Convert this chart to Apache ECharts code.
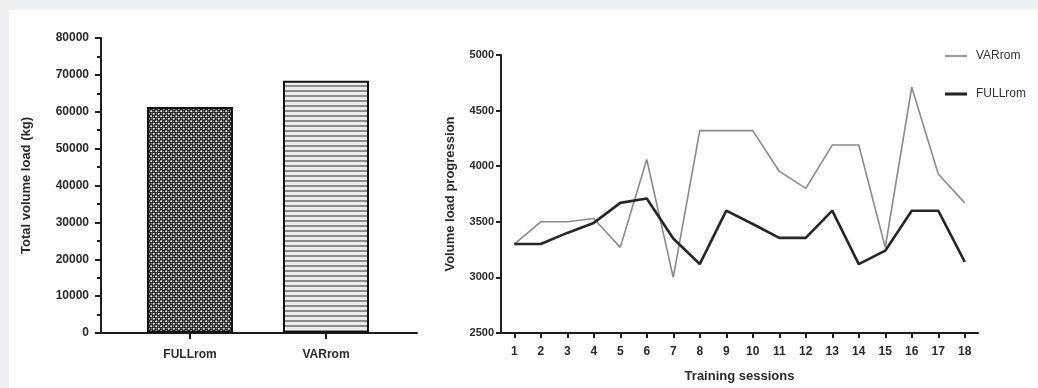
<!DOCTYPE html>
<html>
<head>
<meta charset="utf-8">
<script src="https://cdn.jsdelivr.net/npm/echarts@6/dist/echarts.min.js"></script>
<style>
  html, body { margin: 0; padding: 0; background: #eff0f2; }
  #main { width: 1038px; height: 388px; }
</style>
</head>
<body>
<div id="main"></div>
<script>
// left panel: total volume load per group
const groups = ['FULLrom', 'VARrom']
const totalLoad = [61300, 68400]

// right panel: load progression per session
const sessions = ['1', '2', '3', '4', '5', '6', '7', '8', '9', '10', '11', '12', '13', '14', '15', '16', '17', '18']
const varRom = [3300, 3500, 3500, 3530, 3270, 4060, 3000, 4320, 4320, 4320, 3955, 3800, 4190, 4190, 3270, 4710, 3930, 3670]
const fullRom = [3300, 3300, 3400, 3490, 3670, 3710, 3350, 3120, 3600, 3480, 3355, 3355, 3600, 3120, 3240, 3600, 3600, 3140]

const FONT = '"Liberation Sans", Arial, sans-serif'

// fill patterns for the bars
function checkerPattern() {
  const c = document.createElement('canvas')
  c.width = 5; c.height = 5
  const ctx = c.getContext('2d')
  ctx.fillStyle = '#1a1a1a'
  ctx.fillRect(0, 0, 5, 5)
  ctx.fillStyle = '#f4f4f4'
  ctx.beginPath(); ctx.arc(1.25, 1.25, 1.1, 0, Math.PI * 2); ctx.fill()
  ctx.beginPath(); ctx.arc(3.75, 3.75, 1.1, 0, Math.PI * 2); ctx.fill()
  ctx.fillStyle = '#bdbdbd'
  ctx.fillRect(3.2, 0.8, 1, 1)
  ctx.fillRect(0.8, 3.2, 1, 1)
  return c
}
function stripePattern() {
  const c = document.createElement('canvas')
  c.width = 4; c.height = 5
  const ctx = c.getContext('2d')
  ctx.fillStyle = '#ececec'
  ctx.fillRect(0, 0, 4, 5)
  ctx.fillStyle = '#8c8c8c'
  ctx.fillRect(0, 0, 4, 2)
  return c
}

const plain = v => String(v)
const axisLine = { show: true, lineStyle: { color: '#1e1e1e', width: 2 } }
const tickLabel = { color: '#2a2a2a', fontFamily: FONT, fontWeight: 'bold', fontSize: 11 }
const axisName = { color: '#2a2a2a', fontFamily: FONT, fontWeight: 'bold', fontSize: 13 }

const chart = echarts.init(document.getElementById('main'))
chart.setOption({
  backgroundColor: '#eff0f2',
  animation: false,
  textStyle: { fontFamily: FONT },
  graphic: [{
    type: 'rect', z: -10, silent: true,
    shape: { x: 9, y: 10, width: 1029, height: 378 },
    style: { fill: '#ffffff' }
  }],
  legend: {
    orient: 'vertical',
    left: 940,
    top: 45,
    itemGap: 26,
    itemWidth: 22,
    itemHeight: 14,
    textStyle: { color: '#333', fontFamily: FONT, fontSize: 12, padding: [0, 0, 0, 4] },
    data: [
      { name: 'VARrom', icon: 'path://M0,0h20v1.6h-20z' },
      { name: 'FULLrom', icon: 'path://M0,0h20v2.8h-20z' }
    ]
  },
  grid: [
    { left: 101, top: 38, width: 316, bottom: 55 },
    { left: 501, top: 55, width: 477, bottom: 54 }
  ],
  xAxis: [
    {
      gridIndex: 0,
      type: 'value',
      min: 0.346,
      max: 2.669,
      splitLine: { show: false },
      axisLine: axisLine,
      axisTick: { show: true, customValues: [1, 2], length: 6, lineStyle: { color: '#1e1e1e', width: 2 } },
      axisLabel: Object.assign({}, tickLabel, {
        fontSize: 12, margin: 16, customValues: [1, 2],
        formatter: v => groups[Math.round(v) - 1]
      })
    },
    {
      gridIndex: 1,
      type: 'category',
      data: sessions,
      boundaryGap: true,
      name: 'Training sessions',
      nameLocation: 'middle',
      nameGap: 37,
      nameTextStyle: axisName,
      axisLine: axisLine,
      axisTick: { show: true, alignWithLabel: true, length: 5, lineStyle: { color: '#1e1e1e', width: 2 } },
      axisLabel: Object.assign({}, tickLabel, { fontSize: 12, interval: 0, margin: 13 })
    }
  ],
  yAxis: [
    {
      gridIndex: 0,
      type: 'value',
      min: 0,
      max: 80000,
      interval: 10000,
      name: 'Total volume load (kg)',
      nameLocation: 'middle',
      nameGap: 68,
      nameTextStyle: axisName,
      splitLine: { show: false },
      axisLine: axisLine,
      axisTick: { show: true, length: 6, lineStyle: { color: '#1e1e1e', width: 2 } },
      minorTick: { show: true, splitNumber: 2, length: 4, lineStyle: { color: '#1e1e1e', width: 2 } },
      axisLabel: Object.assign({}, tickLabel, { fontSize: 12, margin: 12, formatter: plain })
    },
    {
      gridIndex: 1,
      type: 'value',
      min: 2500,
      max: 5000,
      interval: 500,
      name: 'Volume load progression',
      nameLocation: 'middle',
      nameGap: 44,
      nameTextStyle: axisName,
      splitLine: { show: false },
      axisLine: axisLine,
      axisTick: { show: true, length: 5, lineStyle: { color: '#1e1e1e', width: 2 } },
      axisLabel: Object.assign({}, tickLabel, { fontSize: 11, margin: 7, formatter: plain })
    }
  ],
  series: [
    {
      type: 'bar',
      xAxisIndex: 0,
      yAxisIndex: 0,
      barWidth: 86,
      data: [
        { value: [1, totalLoad[0]], itemStyle: { color: { image: checkerPattern(), repeat: 'repeat' }, borderColor: '#111', borderWidth: 2 } },
        { value: [2, totalLoad[1]], itemStyle: { color: { image: stripePattern(), repeat: 'repeat' }, borderColor: '#111', borderWidth: 2 } }
      ]
    },
    {
      name: 'VARrom',
      type: 'line',
      xAxisIndex: 1,
      yAxisIndex: 1,
      symbol: 'none',
      data: varRom,
      itemStyle: { color: '#8a8a8a' },
      lineStyle: { color: '#8a8a8a', width: 1.6 }
    },
    {
      name: 'FULLrom',
      type: 'line',
      xAxisIndex: 1,
      yAxisIndex: 1,
      symbol: 'none',
      data: fullRom,
      itemStyle: { color: '#262626' },
      lineStyle: { color: '#262626', width: 2.6 }
    }
  ]
})
</script>
</body>
</html>
